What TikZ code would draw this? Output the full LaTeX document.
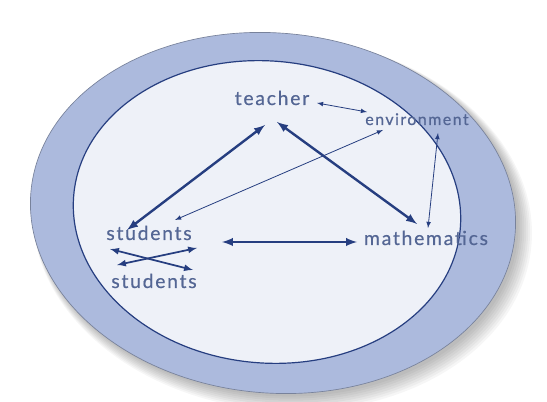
\documentclass[tikz,border=0pt]{standalone}
\usepackage{fontspec}
\setmainfont{Lato}
\newfontfamily\wordfont{Lato}[LetterSpace=9, FakeBold=0.6]
\usetikzlibrary{arrows}
\definecolor{ringblue}{RGB}{172,186,221}
\definecolor{innerblue}{RGB}{238,241,248}
\definecolor{lineblue}{RGB}{38,62,128}
\definecolor{textblue}{RGB}{84,102,148}
\begin{document}
\begin{tikzpicture}[x=0.75pt, y=-0.75pt,
				>=latex,   %arrow tips
				word/.style={text=textblue, inner sep=1pt, anchor=base, font=\wordfont\fontsize{14.5}{17}\selectfont},
				smallword/.style={word, font=\wordfont\fontsize{12}{14}\selectfont},
				thickarrow/.style={<->, draw=lineblue, line width=1.8pt},
				thinarrow/.style={<->, draw=lineblue, line width=0.6pt}]
				%picture area
				\useasboundingbox[fill=white] (0,0) rectangle (547,402);
				%soft shadow
				\foreach \s in {0,2,...,14}
					\fill[black, opacity=0.035, rotate around={-5:(276,216)}] (276+\s/2,216+\s/2) ellipse (243+\s/2 and 180+\s/2);
				%rings
				\filldraw[fill=ringblue, draw=ringblue!70!black, line width=0.5pt, rotate around={-5:(273,213)}] (273,213) ellipse (243 and 180);
				\filldraw[fill=innerblue, draw=lineblue, line width=0.9pt, rotate around={-5:(267,212)}] (267,212) ellipse (194 and 151);
				%words
				\node[word] (teacher) at (272,105) {teacher};
				\node[smallword] (environment) at (417,125) {environment};
				\node[word] (students) at (149,240) {students};
				\node[word] (students2) at (154,288) {students};
				\node[word] (mathematics) at (426,245) {mathematics};
				%arrows
				\draw[thickarrow] ([shift={(-7,20)}]teacher.base) -- ([shift={(-22,-10)}]students.base);
				\draw[thickarrow] ([shift={(5,17)}]teacher.base) -- ([shift={(-9,-21)}]mathematics.base);
				\draw[thinarrow] ([shift={(45,-2)}]teacher.base) -- ([shift={(-50,-13)}]environment.base);
				\draw[thinarrow] ([shift={(-34,5)}]environment.base) -- ([shift={(26,-20)}]students.base);
				\draw[thinarrow] ([shift={(21,8)}]environment.base) -- ([shift={(2,-17)}]mathematics.base);
				\draw[thickarrow] ([shift={(73,2)}]students.base) -- ([shift={(-69,-3)}]mathematics.base);
				%students to students
				\draw[thinarrow, line width=1.3pt] ([shift={(-39,9)}]students.base) -- ([shift={(44,30)}]students.base);
				\draw[thinarrow, line width=1.3pt] ([shift={(-32,25)}]students.base) -- ([shift={(48,8)}]students.base);
			\end{tikzpicture}
\end{document}
